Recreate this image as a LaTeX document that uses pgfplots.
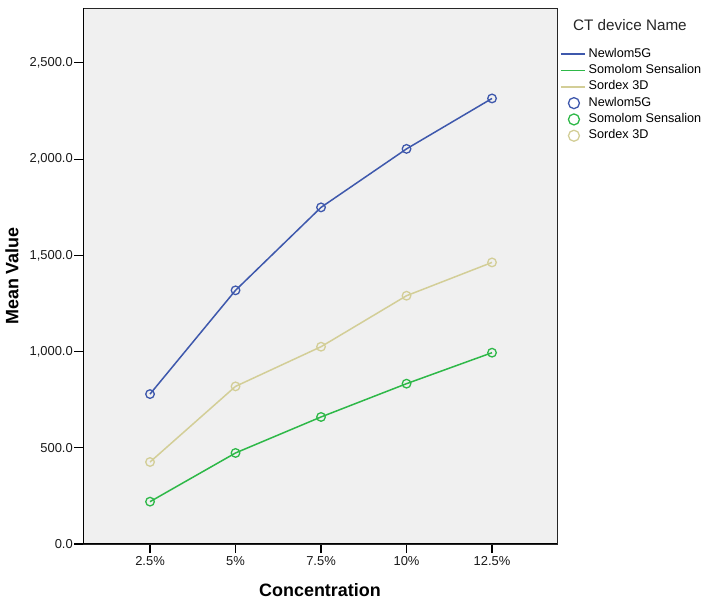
\documentclass[border=0pt]{standalone}
\usepackage{pgfplots}
\pgfplotsset{compat=1.18}
\usepackage{fontspec}
\setmainfont{Liberation Sans}
\definecolor{cblue}{RGB}{62,88,172}
\definecolor{cgreen}{RGB}{46,184,72}
\definecolor{ctan}{RGB}{211,206,151}
\definecolor{bg}{RGB}{240,240,240}
\pgfplotsset{
 lineleg/.style={legend image code/.code={\draw[##1] (0bp,3bp) -- (24bp,3bp);}},
 markleg/.style={legend image code/.code={\draw[mark repeat=2,mark phase=2,##1, mark size=5.5bp] plot coordinates {(0bp,3bp) (13bp,3bp) (24bp,3bp)};}},
}
\pgfplotstableread{
x y
1 779
2 1318
3 1749
4 2053
5 2315
}\newlom
\pgfplotstableread{
x y
1 220
2 473
3 660
4 833
5 994
}\somolom
\pgfplotstableread{
x y
1 426
2 819
3 1025
4 1290
5 1463
}\sordex
\begin{document}
\begin{tikzpicture}[x=1bp,y=1bp]
\begin{axis}[
 at={(83bp,60bp)}, anchor=south west,
 scale only axis, width=474bp, height=536bp,
 xmin=0.216, xmax=5.76, ymin=0, ymax=2785,
 xtick={1,2,3,4,5}, xticklabels={2.5\%,5\%,7.5\%,10\%,12.5\%},
 ytick={0,500,1000,1500,2000,2500},
 xtick pos=bottom, ytick pos=left,
 tick align=outside, major tick length=9bp,
 tick style={black, line width=1.1bp},
 axis line style={black!85, line width=0.8bp},
 axis background/.style={fill=bg},
 /pgf/number format/assume math mode=true,
 ticklabel style={font=\fontsize{13}{15}\selectfont, text=black!90},
 yticklabel style={/tikz/inner sep=1bp, /pgf/number format/fixed, /pgf/number format/fixed zerofill, /pgf/number format/precision=1, /pgf/number format/1000 sep={,}},
 xticklabel style={/tikz/inner sep=2bp, /tikz/yshift=-1bp},
 xlabel={Concentration}, ylabel={Mean Value},
 every axis x label/.style={at={(axis description cs:0.5,-0.086)}, anchor=center, font=\bfseries\fontsize{18}{20}\selectfont},
 every axis y label/.style={at={(axis description cs:-0.150,0.5)}, rotate=90, anchor=center, font=\bfseries\fontsize{18}{20}\selectfont},
 legend style={at={(axis description cs:1.0,0.929)}, anchor=north west, draw=none, fill=none,
   font=\fontsize{12.7}{14}\selectfont,
   nodes={inner sep=0pt, text height=9bp, text depth=3bp, anchor=base west},
   row sep=4.3bp,
   /tikz/every odd column/.append style={column sep=3bp}},
 legend cell align=left,
]
\addplot[cblue, line width=1.5bp, no marks, lineleg] table {\newlom};
\addlegendentry{Newlom5G}
\addplot[cgreen, line width=1.5bp, no marks, lineleg] table {\somolom};
\addlegendentry{Somolom Sensalion}
\addplot[ctan, line width=1.5bp, no marks, lineleg] table {\sordex};
\addlegendentry{Sordex 3D}
\addplot[cblue, only marks, mark=o, mark size=4.3bp, mark options={line width=1.3bp}, markleg] table {\newlom};
\addlegendentry{Newlom5G}
\addplot[cgreen, only marks, mark=o, mark size=4.3bp, mark options={line width=1.3bp}, markleg] table {\somolom};
\addlegendentry{Somolom Sensalion}
\addplot[ctan, only marks, mark=o, mark size=4.3bp, mark options={line width=1.3bp}, markleg] table {\sordex};
\addlegendentry{Sordex 3D}
\draw[black, line width=1.6bp] (rel axis cs:0,1) -- (rel axis cs:0,0) -- (rel axis cs:1,0);
\end{axis}
\node[anchor=west, font=\fontsize{15.3}{17}\selectfont, text=black!85, inner sep=0pt] at (573bp,579bp) {CT device Name};
\pgfresetboundingbox
\path[use as bounding box] (0,0) rectangle (708bp,604bp);
\end{tikzpicture}
\end{document}
